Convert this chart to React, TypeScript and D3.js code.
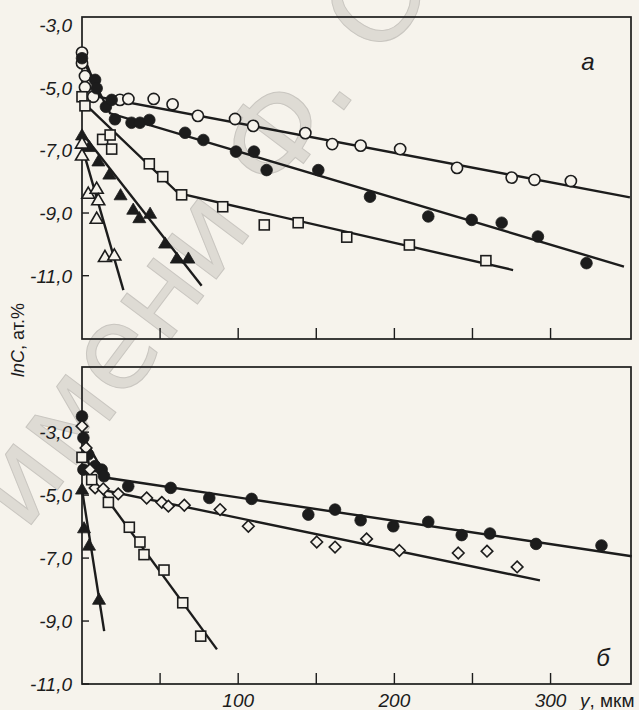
import React from "react";
import * as d3 from "d3";

// ---------- DATA (panel а) ----------
const aOpenCircleX = [0, 0, 1.9, 1.9, 7.2, 24.3, 29.7, 45.9, 58.0, 74.2, 98, 109.6, 143, 160.2, 178.4, 203.7, 240.1, 275.1, 289.7, 313];
const aOpenCircleY = [-3.88, -4.22, -4.63, -4.99, -5.29, -5.39, -5.36, -5.36, -5.53, -5.9, -6.0, -6.22, -6.45, -6.8, -6.85, -6.96, -7.56, -7.87, -7.94, -7.98];
const aOpenCircleLine = [[0, -3.88], [11.5, -5.3], [350.8, -8.5]];

const aFilledCircleX = [0, 8.4, 9.4, 15.3, 19, 21.1, 31.7, 37.1, 43.1, 66, 77.7, 98.6, 110.1, 118.2, 151.3, 184.4, 221.7, 249.5, 268.7, 291.9, 323];
const aFilledCircleY = [-4.06, -4.75, -5.02, -5.61, -5.39, -6.01, -6.12, -6.12, -6.03, -6.44, -6.67, -7.04, -7.04, -7.63, -7.63, -8.48, -9.11, -9.22, -9.31, -9.75, -10.6];
const aFilledCircleLine = [[0, -4.06], [18, -5.82], [347, -10.71]];

const aSquareX = [0, 1.9, 13.2, 18, 19, 43.1, 51.7, 63.8, 90.1, 116.7, 138.4, 169.5, 209.6, 258.6];
const aSquareY = [-5.29, -5.58, -6.65, -6.51, -6.96, -7.43, -7.84, -8.42, -8.8, -9.38, -9.31, -9.77, -10.02, -10.52];
const aSquareLine = [[0, -5.43], [61.7, -8.37], [276, -10.82]];

const aFilledTriX = [0, 4.7, 10.5, 17.5, 24.7, 32.8, 36.7, 43.6, 53.2, 60.7, 68.1];
const aFilledTriY = [-6.51, -6.88, -7.34, -7.76, -8.42, -8.88, -9.15, -9.01, -9.96, -10.44, -10.44];
const aFilledTriLine = [[0, -6.45], [76.6, -11.32]];

const aOpenTriX = [0, 0, 4, 9.4, 10.4, 9.4, 14.7, 20.7];
const aOpenTriY = [-6.77, -7.15, -8.37, -8.21, -8.58, -9.17, -10.39, -10.34];
const aOpenTriLine = [[0, -6.88], [26.5, -11.46]];

// ---------- DATA (panel б) ----------
const bFilledCircleX = [0, 0.9, 4, 0.9, 8.4, 12.6, 14.1, 29.6, 56.8, 81.5, 108.6, 144.9, 162, 178.4, 199.3, 221.7, 243.1, 261.2, 290.7, 332.6];
const bFilledCircleY = [-2.5, -3.18, -3.71, -4.19, -4.08, -4.19, -4.4, -4.72, -4.77, -5.09, -5.12, -5.62, -5.46, -5.8, -5.99, -5.85, -6.27, -6.22, -6.55, -6.6];
const bFilledCircleLine = [[0, -3.07], [15.8, -4.45], [352, -6.94]];

const bDiamondX = [0, 2.6, 5.1, 8.4, 13.6, 23.2, 41.4, 51.1, 55.3, 65.5, 88.4, 106.5, 150.3, 162, 182.2, 203.2, 240.9, 259.3, 278.6];
const bDiamondY = [-2.81, -3.5, -4.19, -4.77, -4.8, -4.96, -5.09, -5.23, -5.35, -5.32, -5.46, -5.99, -6.49, -6.65, -6.39, -6.76, -6.84, -6.78, -7.28];
const bDiamondLine = [[0, -2.84], [7.2, -4.77], [293.2, -7.71]];

const bSquareX = [0, 6.2, 16.9, 30.3, 37.1, 39.7, 52.5, 64.5, 76];
const bSquareY = [-3.8, -4.51, -5.23, -6.02, -6.49, -6.89, -7.38, -8.42, -9.48];
const bSquareLine = [[0, -4.04], [86.4, -9.9]];

const bFilledTriX = [0, 1.3, 4.5, 10.9];
const bFilledTriY = [-4.81, -6.04, -6.59, -8.31];
const bFilledTriLine = [[0, -4.82], [14.2, -9.32]];

// ---------- AXES ----------
const yTickValues = [-3, -5, -7, -9, -11];
const yTickLabels = ["-3,0", "-5,0", "-7,0", "-9,0", "-11,0"];
const xTickValues = [50, 100, 150, 200, 250, 300];
const xLabelValues = [100, 200, 300];
const xLabelTexts = ["100", "200", "300"];
const watermarkText = "имени Ф. Скорины";

const BG = "#f6f3ec";
const INK = "#1c1c1c";
const FONT = "'Liberation Sans', Arial, sans-serif";

type Shape = "oc" | "fc" | "sq" | "ft" | "ot" | "dm";

function Marker({ x, y, shape }: { x: number; y: number; shape: Shape }) {
  const sw = 1.6;
  if (shape === "oc") return <circle cx={x} cy={y} r={5.6} fill={BG} stroke={INK} strokeWidth={sw} />;
  if (shape === "fc") return <circle cx={x} cy={y} r={5.8} fill={INK} stroke={INK} strokeWidth={0.8} />;
  if (shape === "sq") return <rect x={x - 5} y={y - 5} width={10} height={10} fill={BG} stroke={INK} strokeWidth={sw} />;
  if (shape === "dm") {
    const s = 5.8;
    return <path d={`M${x},${y - s}L${x + s},${y}L${x},${y + s}L${x - s},${y}Z`} fill={BG} stroke={INK} strokeWidth={sw} />;
  }
  const h = 6.2;
  const d = `M${x},${y - h}L${x + h * 1.05},${y + h * 0.8}L${x - h * 1.05},${y + h * 0.8}Z`;
  if (shape === "ft") return <path d={d} fill={INK} stroke={INK} strokeWidth={0.8} />;
  return <path d={d} fill={BG} stroke={INK} strokeWidth={sw} />;
}

type Series = { xs: number[]; ys: number[]; line: number[][]; shape: Shape };

function Panel({
  top, bottom, yDomain, series, showXLabels, showTopTick,
}: {
  top: number; bottom: number; yDomain: [number, number]; series: Series[]; showXLabels: boolean; showTopTick: boolean;
}) {
  const left = 82, right = 631;
  const x = d3.scaleLinear().domain([0, 351.5]).range([left, right]);
  const y = d3.scaleLinear().domain(yDomain).range([bottom, top]);
  const line = d3.line<number[]>().x((d) => x(d[0])).y((d) => y(d[1]));
  return (
    <g>
      <rect x={left} y={top} width={right - left} height={bottom - top} fill="none" stroke={INK} strokeWidth={1.7} />
      {yTickValues.map((v, i) => (
        <g key={"y" + i}>
          {(i > 0 || showTopTick) && (
            <line x1={left} x2={left + 7} y1={y(v)} y2={y(v)} stroke={INK} strokeWidth={1.4} />
          )}
          <text x={left - 10} y={y(v)} dy="0.36em" textAnchor="end" fontFamily={FONT} fontStyle="italic" fontSize={19} fill={INK}>
            {yTickLabels[i]}
          </text>
        </g>
      ))}
      {xTickValues.map((v) => (
        <line key={"x" + v} x1={x(v)} x2={x(v)} y1={bottom} y2={bottom - 11} stroke={INK} strokeWidth={1.4} />
      ))}
      {showXLabels &&
        xLabelValues.map((v, i) => (
          <text key={"xl" + v} x={x(v)} y={bottom + 23} textAnchor="middle" fontFamily={FONT} fontStyle="italic" fontSize={19} fill={INK}>
            {xLabelTexts[i]}
          </text>
        ))}
      {series.map((s, k) => (
        <path key={"l" + k} d={line(s.line) || ""} fill="none" stroke={INK} strokeWidth={2.4} />
      ))}
      {series.map((s, k) => (
        <g key={"m" + k}>
          {s.xs.map((xv, i) => (
            <Marker key={i} x={x(xv)} y={y(s.ys[i])} shape={s.shape} />
          ))}
        </g>
      ))}
    </g>
  );
}

export default function App() {
  const seriesA: Series[] = [
    { xs: aOpenCircleX, ys: aOpenCircleY, line: aOpenCircleLine, shape: "oc" },
    { xs: aFilledCircleX, ys: aFilledCircleY, line: aFilledCircleLine, shape: "fc" },
    { xs: aSquareX, ys: aSquareY, line: aSquareLine, shape: "sq" },
    { xs: aFilledTriX, ys: aFilledTriY, line: aFilledTriLine, shape: "ft" },
    { xs: aOpenTriX, ys: aOpenTriY, line: aOpenTriLine, shape: "ot" },
  ];
  const seriesB: Series[] = [
    { xs: bFilledCircleX, ys: bFilledCircleY, line: bFilledCircleLine, shape: "fc" },
    { xs: bDiamondX, ys: bDiamondY, line: bDiamondLine, shape: "dm" },
    { xs: bSquareX, ys: bSquareY, line: bSquareLine, shape: "sq" },
    { xs: bFilledTriX, ys: bFilledTriY, line: bFilledTriLine, shape: "ft" },
  ];
  return (
    <svg width={639} height={710} style={{ position: "absolute", left: 0, top: 0 }}>
      <rect x={0} y={0} width={639} height={710} fill={BG} />
      <text
        transform="translate(25,533) rotate(-53)"
        fontFamily="'DejaVu Sans', sans-serif"
        fontSize={115}
        fill="#dedbd4"
        stroke="#c9c6c0"
        strokeWidth={1}
      >
        {watermarkText}
      </text>
      <Panel top={17} bottom={339} yDomain={[-13.02, -2.745]} series={seriesA} showXLabels={false} showTopTick={false} />
      <Panel top={367} bottom={684} yDomain={[-11, -0.93]} series={seriesB} showXLabels={true} showTopTick={true} />
      <text transform="translate(24,340) rotate(-90)" textAnchor="middle" fontFamily={FONT} fontSize={18} fill={INK}>
        <tspan fontStyle="italic">lnC</tspan>
        <tspan>, ат.%</tspan>
      </text>
      <text x={588} y={70} textAnchor="middle" fontFamily={FONT} fontStyle="italic" fontSize={24} fill={INK}>а</text>
      <text x={603} y={666} textAnchor="middle" fontFamily={FONT} fontStyle="italic" fontSize={24} fill={INK}>б</text>
      <text x={580} y={707} fontFamily={FONT} fontSize={19} fill={INK}>
        <tspan fontStyle="italic">y</tspan>
        <tspan>, мкм</tspan>
      </text>
    </svg>
  );
}
